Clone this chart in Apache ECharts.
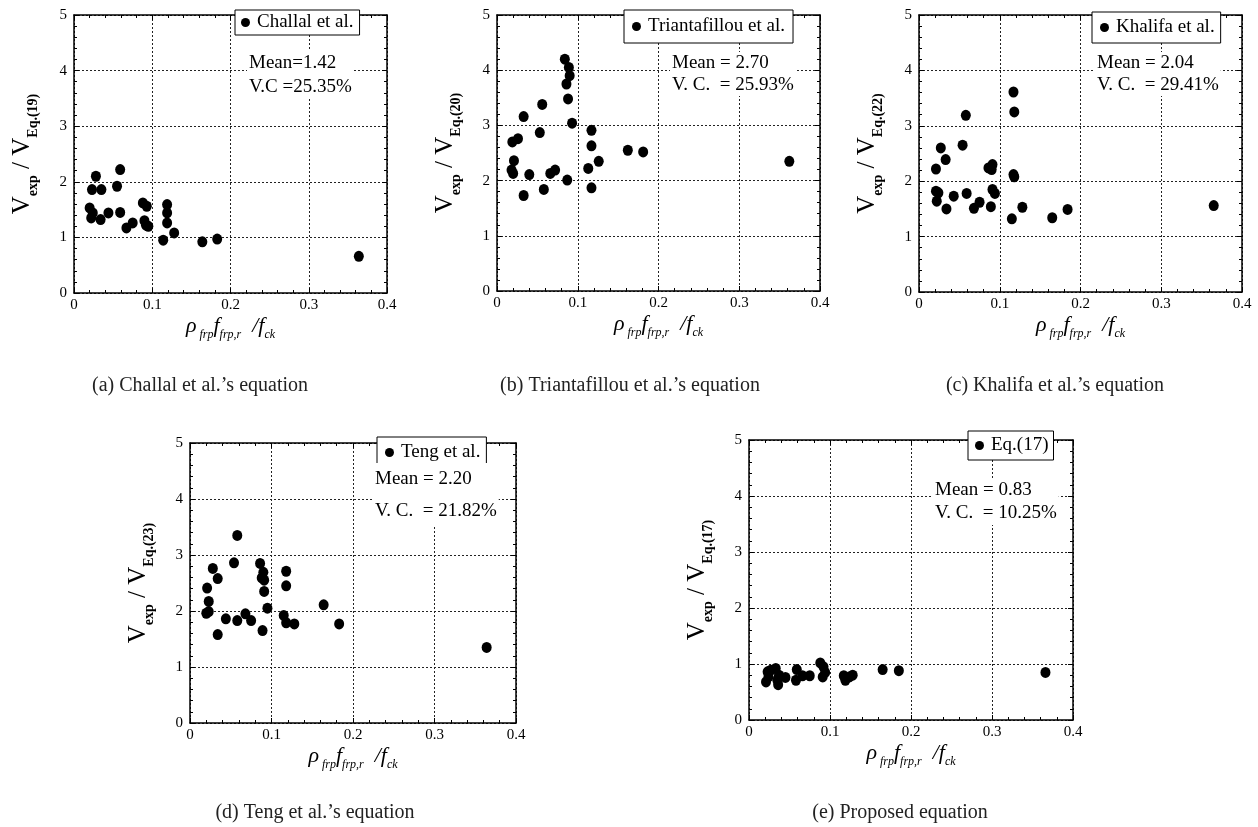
<!DOCTYPE html>
<html><head><meta charset="utf-8">
<script src="https://cdn.jsdelivr.net/npm/echarts@6/dist/echarts.min.js"></script>
<style>html,body{margin:0;padding:0;background:#fff}#c{width:1258px;height:827px}</style>
</head><body><div id="c"></div>
<script>
// ---------------- data ----------------
const xTicks = [0, 0.1, 0.2, 0.3, 0.4];
const yTicks = [0, 1, 2, 3, 4, 5];

const seriesNames = ['Challal et al.', 'Triantafillou et al.', 'Khalifa et al.', 'Teng et al.', 'Eq.(17)'];
const eqLabels = ['Eq.(19)', 'Eq.(20)', 'Eq.(22)', 'Eq.(23)', 'Eq.(17)'];
const meanTexts = ['Mean=1.42', 'Mean = 2.70', 'Mean = 2.04', 'Mean = 2.20', 'Mean = 0.83'];
const vcTexts = ['V.C =25.35%', 'V. C.  = 25.93%', 'V. C.  = 29.41%', 'V. C.  = 21.82%', 'V. C.  = 10.25%'];
const captions = ['(a) Challal et al.\u2019s equation', '(b) Triantafillou et al.\u2019s equation',
  '(c) Khalifa et al.\u2019s equation', '(d) Teng et al.\u2019s equation', '(e) Proposed equation'];

const challal = [[0.028,2.10],[0.023,1.86],[0.035,1.86],[0.059,2.22],[0.055,1.92],[0.020,1.53],[0.024,1.44],
  [0.022,1.35],[0.034,1.32],[0.044,1.44],[0.059,1.45],[0.067,1.17],[0.075,1.26],[0.088,1.62],[0.093,1.56],
  [0.090,1.30],[0.092,1.22],[0.095,1.20],[0.119,1.59],[0.119,1.44],[0.119,1.26],[0.128,1.08],[0.114,0.95],
  [0.164,0.92],[0.183,0.97],[0.364,0.66]];
const triantafillou = [[0.084,4.20],[0.089,4.05],[0.090,3.90],[0.086,3.75],[0.088,3.48],[0.093,3.04],[0.056,3.38],
  [0.033,3.16],[0.053,2.87],[0.019,2.70],[0.026,2.76],[0.021,2.36],[0.018,2.19],[0.020,2.13],[0.040,2.11],
  [0.066,2.13],[0.072,2.19],[0.087,2.01],[0.033,1.73],[0.058,1.84],[0.117,2.91],[0.117,2.63],[0.126,2.35],
  [0.113,2.22],[0.117,1.87],[0.162,2.55],[0.181,2.52],[0.362,2.35]];
const khalifa = [[0.117,3.61],[0.118,3.25],[0.058,3.19],[0.054,2.65],[0.027,2.60],[0.033,2.39],[0.021,2.22],
  [0.086,2.24],[0.091,2.30],[0.090,2.21],[0.117,2.12],[0.118,2.08],[0.021,1.82],[0.024,1.79],[0.022,1.64],
  [0.034,1.50],[0.043,1.73],[0.059,1.78],[0.068,1.51],[0.075,1.62],[0.089,1.54],[0.091,1.85],[0.094,1.78],
  [0.115,1.32],[0.128,1.53],[0.165,1.34],[0.184,1.49],[0.365,1.56]];
const teng = [[0.058,3.35],[0.054,2.86],[0.028,2.76],[0.034,2.58],[0.021,2.41],[0.023,2.17],[0.020,1.96],
  [0.023,1.99],[0.034,1.58],[0.044,1.86],[0.058,1.83],[0.068,1.95],[0.075,1.83],[0.086,2.85],[0.090,2.69],
  [0.088,2.59],[0.091,2.55],[0.091,2.35],[0.095,2.05],[0.089,1.65],[0.118,2.71],[0.118,2.45],[0.115,1.92],
  [0.118,1.79],[0.128,1.77],[0.164,2.11],[0.183,1.77],[0.364,1.35]];
const proposed = [[0.021,0.68],[0.023,0.86],[0.027,0.89],[0.033,0.92],[0.036,0.63],[0.037,0.80],[0.045,0.76],
  [0.058,0.71],[0.059,0.90],[0.066,0.79],[0.075,0.79],[0.088,1.02],[0.092,0.95],[0.091,0.77],[0.094,0.85],
  [0.117,0.79],[0.119,0.71],[0.128,0.80],[0.165,0.90],[0.185,0.88],[0.366,0.85],[0.024,0.77],[0.035,0.71],
  [0.124,0.77]];
const allData = [challal, triantafillou, khalifa, teng, proposed];

// ---------------- layout ----------------
const grids = [
  {left: 74, top: 15, width: 313, height: 278},
  {left: 497, top: 15, width: 323, height: 276},
  {left: 919, top: 15, width: 323, height: 277},
  {left: 190, top: 443, width: 326, height: 280},
  {left: 749, top: 440, width: 324, height: 280}
];
const legendPos = [
  {left: 235, top: 10, pad: [3, 6, 3, 6]},
  {left: 624, top: 10, pad: [7, 8, 7, 8]},
  {left: 1092, top: 12, pad: [6, 6, 6, 8]},
  {left: 377, top: 437, pad: [6, 6, 6, 8]},
  {left: 968, top: 431, pad: [5, 5, 5, 7]}
];
const statPos = [
  {x: 247, y: 51, lh: 24}, {x: 670, y: 52, lh: 22}, {x: 1095, y: 52, lh: 22},
  {x: 373, y: 463, lh: 32}, {x: 933, y: 479, lh: 23}
];
const capPos = [{x: 200, y: 386}, {x: 630, y: 386}, {x: 1055, y: 386}, {x: 315, y: 813}, {x: 900, y: 813}];

const FONT = 'Liberation Serif';
const xMin = xTicks[0], xMax = xTicks[xTicks.length - 1], xInt = xTicks[1] - xTicks[0];
const yMin = yTicks[0], yMax = yTicks[yTicks.length - 1], yInt = yTicks[1] - yTicks[0];

const xAxes = [], yAxes = [], series = [], legends = [], graphics = [];
const tickStyle = {inside: true, length: 5, lineStyle: {color: '#000', width: 1}};
const minorStyle = {show: true, splitNumber: 5, length: 3, lineStyle: {color: '#000', width: 1}};
const lineStyle = {show: true, onZero: false, lineStyle: {color: '#000', width: 1.5}};
const splitStyle = {show: true, lineStyle: {color: '#222', width: 1, type: [2, 2]}};

grids.forEach((g, i) => {
  xAxes.push({
    gridIndex: i, type: 'value', min: xMin, max: xMax, interval: xInt, position: 'bottom',
    axisLine: lineStyle, axisTick: tickStyle, minorTick: minorStyle, splitLine: splitStyle,
    axisLabel: {color: '#000', fontFamily: FONT, fontSize: 15, margin: 5},
    name: '{r|\u03c1}{s| frp}{f|f}{s|frp,r}{f|  /f}{s|ck}',
    nameLocation: 'middle', nameGap: 22,
    nameTextStyle: {rich: {
      r: {fontFamily: FONT, fontStyle: 'italic', fontSize: 22, lineHeight: 26, verticalAlign: 'top', color: '#000'},
      f: {fontFamily: FONT, fontStyle: 'italic', fontSize: 22, lineHeight: 26, verticalAlign: 'top', color: '#000'},
      s: {fontFamily: FONT, fontStyle: 'italic', fontSize: 12, lineHeight: 12, verticalAlign: 'bottom', color: '#000'}
    }}
  });
  xAxes.push({
    gridIndex: i, type: 'value', min: xMin, max: xMax, interval: xInt, position: 'top',
    axisLine: lineStyle, axisTick: tickStyle, minorTick: minorStyle, splitLine: {show: false},
    axisLabel: {show: false}
  });
  yAxes.push({
    gridIndex: i, type: 'value', min: yMin, max: yMax, interval: yInt, position: 'left',
    axisLine: lineStyle, axisTick: tickStyle, minorTick: minorStyle, splitLine: splitStyle,
    axisLabel: {color: '#000', fontFamily: FONT, fontSize: 15, margin: 7},
    name: '{v|V}{s|exp}{v| / V}{s|' + eqLabels[i] + '}',
    nameLocation: 'middle', nameRotate: 90, nameGap: 34,
    nameTextStyle: {rich: {
      v: {fontFamily: FONT, fontSize: 25, lineHeight: 30, verticalAlign: 'top', color: '#000'},
      s: {fontFamily: FONT, fontSize: 14, fontWeight: 'bold', lineHeight: 14, verticalAlign: 'bottom', color: '#000'}
    }}
  });
  yAxes.push({
    gridIndex: i, type: 'value', min: yMin, max: yMax, interval: yInt, position: 'right',
    axisLine: lineStyle, axisTick: tickStyle, minorTick: minorStyle, splitLine: {show: false},
    axisLabel: {show: false}
  });
  series.push({
    name: seriesNames[i], type: 'scatter', xAxisIndex: 2 * i, yAxisIndex: 2 * i,
    data: allData[i], symbol: 'circle', symbolSize: [10, 11],
    itemStyle: {color: '#000', opacity: 1}, silent: true
  });
  const lp = legendPos[i];
  legends.push({
    data: [seriesNames[i]], left: lp.left, top: lp.top, padding: lp.pad,
    backgroundColor: '#fff', borderColor: '#000', borderWidth: 1, borderRadius: 0,
    icon: 'circle', itemWidth: 9, itemHeight: 10, itemGap: 4, selectedMode: false,
    itemStyle: {color: '#000', opacity: 1},
    textStyle: {fontFamily: FONT, fontSize: 19, color: '#000', padding: [0, 0, 0, 2]}
  });
  const sp = statPos[i];
  graphics.push({
    type: 'text', x: sp.x, y: sp.y, z: 50,
    style: {text: meanTexts[i] + '\n' + vcTexts[i], fill: '#000', font: '19px "' + FONT + '"',
      lineHeight: sp.lh, backgroundColor: '#fff', padding: [0, 2, 0, 2], textAlign: 'left', textVerticalAlign: 'top'}
  });
  const cp = capPos[i];
  graphics.push({
    type: 'text', x: cp.x, y: cp.y, z: 50,
    style: {text: captions[i], fill: '#222', font: '20px "' + FONT + '"', textAlign: 'center', textVerticalAlign: 'middle'}
  });
});

const chart = echarts.init(document.getElementById('c'), null, {renderer: 'canvas'});
chart.setOption({
  animation: false,
  backgroundColor: '#fff',
  grid: grids.map(g => Object.assign({containLabel: false, show: false}, g)),
  xAxis: xAxes, yAxis: yAxes, series: series, legend: legends, graphic: graphics
});
</script></body></html>
